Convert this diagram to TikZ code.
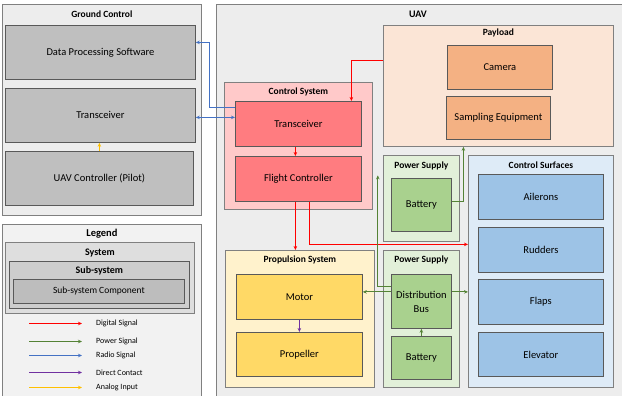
\documentclass[tikz,border=0pt]{standalone}
\usepackage{fontspec}
\setmainfont{Carlito}
\usetikzlibrary{arrows.meta, positioning, calc}
\definecolor{framebg}{HTML}{EDEDED}
\definecolor{frameline}{HTML}{808080}
\definecolor{compline}{HTML}{595959}
\definecolor{greybox}{HTML}{BFBFBF}
\definecolor{legbg}{HTML}{F2F2F2}
\definecolor{legsys}{HTML}{DEDEDE}
\definecolor{legsub}{HTML}{CDCDCD}
\definecolor{legcomp}{HTML}{BDBDBD}
\definecolor{payloadbg}{HTML}{FBE5D6}
\definecolor{payloadfg}{HTML}{F4B183}
\definecolor{ctrlbg}{HTML}{FFC9C9}
\definecolor{ctrlfg}{HTML}{FF7C80}
\definecolor{powerbg}{HTML}{E2F0D9}
\definecolor{powerfg}{HTML}{A9D18E}
\definecolor{surfbg}{HTML}{DEEBF7}
\definecolor{surffg}{HTML}{9DC3E6}
\definecolor{propbg}{HTML}{FFF2CC}
\definecolor{propfg}{HTML}{FFD966}
\definecolor{digital}{HTML}{FF0000}
\definecolor{power}{HTML}{548235}
\definecolor{radio}{HTML}{4472C4}
\definecolor{contact}{HTML}{7030A0}
\definecolor{analog}{HTML}{FFC000}

\begin{document}
\begin{tikzpicture}[
        x=1pt, y=-1pt,
        font=\fontsize{10.5}{13}\selectfont,
        >={Stealth[length=4pt, width=3.5pt]},
        frame/.style={
            rectangle,
            draw=frameline,
            line width=0.8pt,
            anchor=north west,
            inner sep=0pt
        },
        comp/.style={
            rectangle,
            draw=compline,
            line width=0.8pt,
            anchor=north west,
            align=center,
            inner sep=1pt
        },
        title/.style={
            anchor=base,
            inner sep=0pt,
            font=\fontsize{9.5}{11}\selectfont\bfseries
        },
        sig/.style={->, line width=0.9pt},
        legline/.style={->, line width=1.5pt},
        legtext/.style={anchor=west, inner sep=0pt, font=\fontsize{8}{9}\selectfont}
    ]
    \useasboundingbox (0,0) rectangle (622,396);

    % Ground Control
    \node[frame, fill=framebg, minimum width=199pt, minimum height=211pt] (ground) at (2,4) {};
    \node[title] (groundtitle) at ($(ground.north)+(0,14)$) {Ground Control};
    \node[comp, fill=greybox, minimum width=190pt, minimum height=54pt] (dps) at (5,25) {Data Processing Software};
    \node[comp, fill=greybox, minimum width=190pt, minimum height=54pt] (gctrx) at (5,88) {Transceiver};
    \node[comp, fill=greybox, minimum width=188pt, minimum height=54pt] (pilot) at (5,151) {UAV Controller (Pilot)};

    % Legend
    \node[frame, fill=legbg, minimum width=199pt, minimum height=176pt] (legend) at (2,224) {};
    \node[title, font=\fontsize{10.5}{12}\selectfont\bfseries] (legendtitle) at ($(legend.north)+(0,12.5)$) {Legend};
    \node[frame, fill=legsys, minimum width=189pt, minimum height=71pt] (legsys) at (5,242) {};
    \node[title, font=\fontsize{10}{12}\selectfont\bfseries] at ($(legsys.north)+(0,13.5)$) {System};
    \node[frame, fill=legsub, draw=compline, minimum width=180pt, minimum height=47pt] (legsub) at (9,261) {};
    \node[title, font=\fontsize{10}{12}\selectfont\bfseries] at ($(legsub.north)+(0,12.5)$) {Sub-system};
    \node[comp, fill=legcomp, minimum width=171pt, minimum height=24pt, font=\fontsize{9.5}{11}\selectfont] (legcomp) at (13,279) {Sub-system Component};
    \node[legtext] (legdigital) at (96,323.5) {Digital Signal};
    \node[legtext] (legpower) at (96,341.5) {Power Signal};
    \node[legtext] (legradio) at (96,355.5) {Radio Signal};
    \node[legtext] (legcontact) at (96,372.5) {Direct Contact};
    \node[legtext] (leganalog) at (96,387.5) {Analog Input};
    \draw[legline, digital] ($(legdigital.west)+(-67,0)$) coordinate (d0) -- ($(d0)+(53,0)$) coordinate (d1);
    \draw[legline, power] ($(legpower.west)+(-67,0)$) coordinate (p0) -- ($(p0)+(53,0)$) coordinate (p1);
    \draw[legline, radio] ($(legradio.west)+(-67,0)$) coordinate (r0) -- ($(r0)+(53,0)$) coordinate (r1);
    \draw[legline, contact] ($(legcontact.west)+(-67,0)$) coordinate (c0) -- ($(c0)+(53,0)$) coordinate (c1);
    \draw[legline, analog] ($(leganalog.west)+(-67,0)$) coordinate (a0) -- ($(a0)+(53,0)$) coordinate (a1);

    % UAV
    \node[frame, fill=framebg, minimum width=410pt, minimum height=395pt] (uav) at (216,4) {};
    \node[title, font=\fontsize{10}{12}\selectfont\bfseries] (uavtitle) at (418,18) {UAV};

    % Payload
    \node[frame, fill=payloadbg, minimum width=230pt, minimum height=121pt] (payload) at (383,25) {};
    \node[title] at ($(payload.north)+(0,10.5)$) {Payload};
    \node[comp, fill=payloadfg, minimum width=105pt, minimum height=44pt] (camera) at (447,45) {Camera};
    \node[comp, fill=payloadfg, minimum width=104pt, minimum height=43pt] (sampling) at (446,96) {Sampling Equipment};

    % Control System
    \node[frame, fill=ctrlbg, minimum width=148pt, minimum height=127pt] (ctrl) at (224,82) {};
    \node[title] at ($(ctrl.north)+(0,13)$) {Control System};
    \node[comp, fill=ctrlfg, minimum width=126pt, minimum height=45pt] (uavtrx) at (235,101) {Transceiver};
    \node[comp, fill=ctrlfg, minimum width=126pt, minimum height=45pt] (fc) at (235,156) {Flight Controller};

    % Power Supply (top)
    \node[frame, fill=powerbg, minimum width=76pt, minimum height=86pt] (power1) at (383,155) {};
    \node[title] at ($(power1.north)+(0,13)$) {Power Supply};
    \node[comp, fill=powerfg, minimum width=60pt, minimum height=53pt] (bat1) at (391,178) {Battery};

    % Control Surfaces
    \node[frame, fill=surfbg, minimum width=145pt, minimum height=232pt] (surf) at (468,155) {};
    \node[title] at ($(surf.north)+(0,13)$) {Control Surfaces};
    \node[comp, fill=surffg, minimum width=125pt, minimum height=45pt] (ailerons) at (478,174) {Ailerons};
    \node[comp, fill=surffg, minimum width=125pt, minimum height=45pt] (rudders) at (478,227) {Rudders};
    \node[comp, fill=surffg, minimum width=125pt, minimum height=45pt] (flaps) at (478,279) {Flaps};
    \node[comp, fill=surffg, minimum width=125pt, minimum height=44pt] (elevator) at (478,332) {Elevator};

    % Propulsion System
    \node[frame, fill=propbg, minimum width=149pt, minimum height=137pt] (prop) at (225,250) {};
    \node[title] at ($(prop.north)+(0,12)$) {Propulsion System};
    \node[comp, fill=propfg, minimum width=126pt, minimum height=45pt] (motor) at (236,274) {Motor};
    \node[comp, fill=propfg, minimum width=126pt, minimum height=44pt] (propeller) at (236,332) {Propeller};

    % Power Supply (bottom)
    \node[frame, fill=powerbg, minimum width=76pt, minimum height=137pt] (power2) at (383,250) {};
    \node[title] at ($(power2.north)+(0,12)$) {Power Supply};
    \node[comp, fill=powerfg, minimum width=60pt, minimum height=54pt] (bus) at (391,274) {Distribution\\[1pt]Bus};
    \node[comp, fill=powerfg, minimum width=60pt, minimum height=43pt] (bat2) at (391,336) {Battery};

    % Radio signals
    \draw[sig, radio] ([yshift=16.5pt]uavtrx.west) -| ($(dps.east)+(14,-10)$) -- ([yshift=10pt]dps.east);
    \draw[<->, line width=0.9pt, radio] ([yshift=6.5pt]uavtrx.west) coordinate (rlink) -- (rlink -| gctrx.east);

    % Digital signals
    \draw[sig, digital] ([yshift=25.5pt]payload.west) -| ([xshift=53pt]uavtrx.north);
    \draw[sig, digital] ([xshift=-3pt]uavtrx.south) -- ([xshift=-3pt]uavtrx.south |- fc.north);
    \draw[sig, digital] ([xshift=-3pt]fc.south) -- ([xshift=-3pt]fc.south |- prop.north);
    \draw[sig, digital] ([xshift=11pt]fc.south) |- ([yshift=27pt]surf.west);

    % Power signals
    \coordinate (ctrlin) at ($(ctrl.east)+(5,29.5)$);
    \draw[sig, power] ([yshift=9.5pt]bus.west) coordinate (pm) -- (pm -| motor.east);
    \draw[sig, power] ([yshift=9.5pt]bus.east) coordinate (ps) -- (ps -| surf.west);
    \draw[sig, power] ([yshift=15pt]bus.west) -| (ctrlin);
    \draw[sig, power] ([yshift=3.5pt]bat1.east) -| ([xshift=-35pt]payload.south);
    \draw[sig, power] (bat2.north) -- (bus.south);

    % Direct contact and analog input
    \draw[sig, contact] (motor.south) -- (propeller.north);
    \draw[sig, analog] (pilot.north) -- (pilot.north |- gctrx.south);

\end{tikzpicture}
\end{document}
